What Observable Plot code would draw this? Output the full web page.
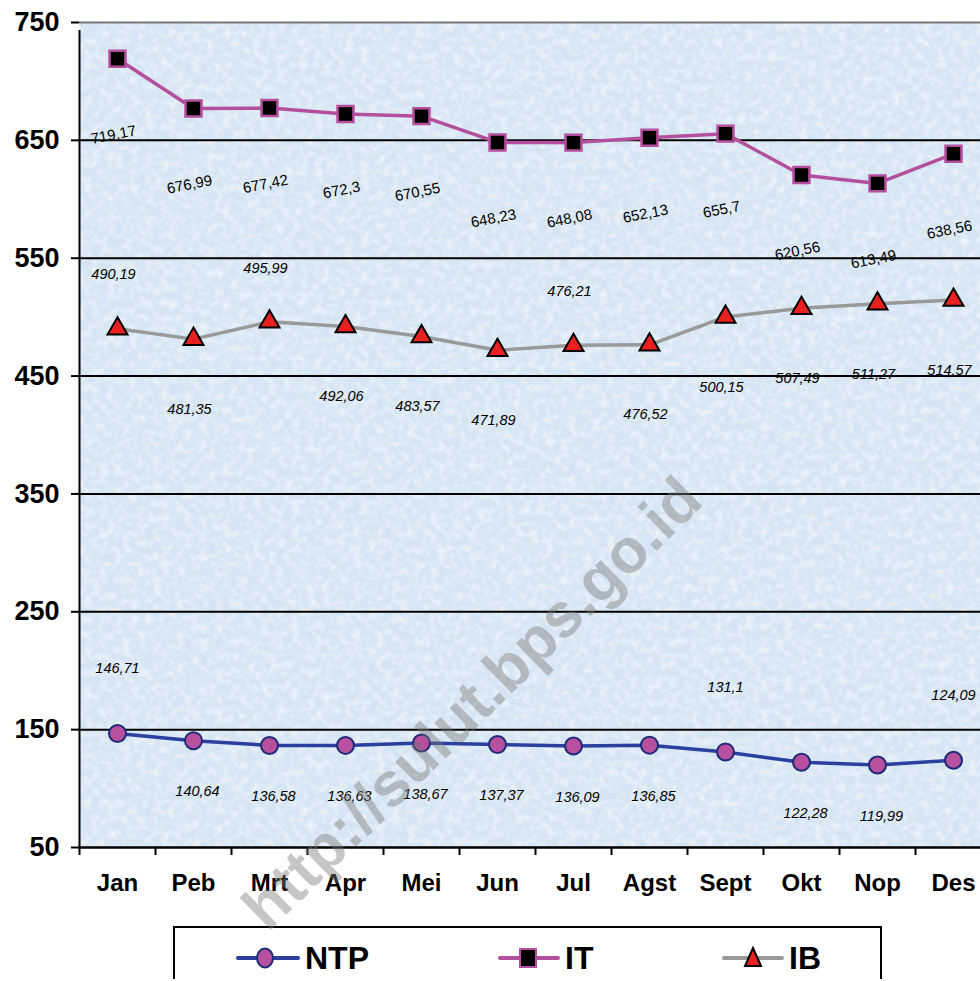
<!DOCTYPE html>
<html>
<head>
<meta charset="utf-8">
<script src="https://cdn.jsdelivr.net/npm/d3@7"></script>
<script src="https://cdn.jsdelivr.net/npm/@observablehq/plot@0.6"></script>
<style>
  html, body { margin: 0; padding: 0; background: #fff; }
  #wrap { position: relative; width: 980px; height: 981px; overflow: hidden; font-family: "Liberation Sans", Arial, sans-serif; }
  #chart { position: absolute; left: 0; top: 0; }
  #legend { position: absolute; left: 173px; top: 926px; width: 709px; height: 53px; border: 2px solid #000; border-bottom: none; background: #fff; box-sizing: border-box; }
  .item { position: absolute; top: 13px; height: 34px; display: flex; align-items: center; }
  .item span { font-weight: bold; font-size: 32px; margin-left: 5px; line-height: 34px; }
  #wm { position: absolute; left: 472px; top: 703px; transform: translate(-50%, -50%) rotate(-44.5deg); font-weight: bold; font-size: 62px; line-height: 62px; color: rgba(120,120,120,0.42); white-space: nowrap; pointer-events: none; }
</style>
</head>
<body>
<div id="wrap">
  <div id="chart"></div>
  <div id="legend">
    <div class="item" style="left:61px"><svg width="64" height="34"><line x1="2" y1="17" x2="62" y2="17" stroke="#2b3f9f" stroke-width="4" stroke-linecap="round"/><ellipse cx="29" cy="17" rx="8" ry="9.5" fill="#b6509f" stroke="#1e2a78" stroke-width="2"/></svg><span>NTP</span></div>
    <div class="item" style="left:323px"><svg width="62" height="34"><line x1="2" y1="17" x2="60" y2="17" stroke="#b44f9d" stroke-width="4" stroke-linecap="round"/><rect x="22" y="8" width="16" height="18" fill="#000" stroke="#b44f9d" stroke-width="2"/></svg><span>IT</span></div>
    <div class="item" style="left:547px"><svg width="62" height="34"><line x1="2" y1="17" x2="60" y2="17" stroke="#999" stroke-width="4" stroke-linecap="round"/><path d="M31,7 L39,25 L23,25 Z" fill="#e82020" stroke="#000" stroke-width="2" stroke-linejoin="miter"/></svg><span>IB</span></div>
  </div>
  <div id="wm">http://sulut.bps.go.id</div>
</div>
<script>
// ---- data ----
const months = ["Jan","Peb","Mrt","Apr","Mei","Jun","Jul","Agst","Sept","Okt","Nop","Des"];
const ntp = [146.71,140.64,136.58,136.63,138.67,137.37,136.09,136.85,131.1,122.28,119.99,124.09];
const it  = [719.17,676.99,677.42,672.3,670.55,648.23,648.08,652.13,655.7,620.56,613.49,638.56];
const ib  = [490.19,481.35,495.99,492.06,483.57,471.89,476.21,476.52,500.15,507.49,511.27,514.57];
const yTicks = [50,150,250,350,450,550,650,750];
// data-label placement (as set in the original spreadsheet)
const ntpLabelSide = ["above","below","below","below","below","below","below","below","above","below","below","above"];
const ibLabelSide  = ["above","below","above","below","below","below","above","below","below","below","below","below"];

const rows = months.map((m, i) => ({month: m, ntp: ntp[i], it: it[i], ib: ib[i], ntpSide: ntpLabelSide[i], ibSide: ibLabelSide[i]}));
const fmt = v => String(v).replace(".", ",");

const xRange = [79, 991];
const bw = (xRange[1] - xRange[0]) / months.length;

const plot = Plot.plot({
  width: 980,
  height: 981,
  marginTop: 22,
  marginBottom: 134,
  marginLeft: 79,
  marginRight: 0,
  style: {fontFamily: "'Liberation Sans', Arial, sans-serif", color: "#000", background: "transparent", overflow: "visible"},
  x: {type: "band", domain: months, range: xRange, padding: 0, axis: null},
  y: {domain: [50, 750], axis: null},
  marks: [
    Plot.frame({fill: "#d5e5f3", stroke: null}),
    // gridlines
    Plot.ruleY(yTicks.filter(t => t > 50 && t < 750), {stroke: "#000", strokeWidth: 2}),
    Plot.ruleY([750], {stroke: "#777", strokeWidth: 2}),
    // y axis
    Plot.axisY({ticks: yTicks, tickSize: 8, tickPadding: 12, fontSize: 27, fontWeight: "bold", strokeWidth: 2, tickFormat: d => String(d)}),
    // x axis ticks at category boundaries and labels
    Plot.axisX({tickSize: 8, tickFormat: () => "", dx: -bw / 2, strokeWidth: 2}),
    Plot.axisX({tickSize: 0, tickPadding: 26, fontSize: 24, fontWeight: "bold"}),
    Plot.ruleY([50], {stroke: "#000", strokeWidth: 2.5}),
    Plot.ruleX([months[0]], {dx: -bw / 2, y1: 50, y2: 750, insetBottom: -8, stroke: "#000", strokeWidth: 2}),
    // series lines
    Plot.line(rows, {x: "month", y: "it", stroke: "#b44f9d", strokeWidth: 3.5}),
    Plot.line(rows, {x: "month", y: "ib", stroke: "#999999", strokeWidth: 3.5}),
    Plot.line(rows, {x: "month", y: "ntp", stroke: "#2b3f9f", strokeWidth: 3.5}),
    // markers
    Plot.dot(rows, {x: "month", y: "it", symbol: "square", r: 9, fill: "#000", stroke: "#b44f9d", strokeWidth: 2.5}),
    Plot.dot(rows, {x: "month", y: "ib", symbol: "triangle", r: 7.4, fill: "#e82020", stroke: "#000", strokeWidth: 2}),
    Plot.dot(rows, {x: "month", y: "ntp", r: 8.5, fill: "#b6509f", stroke: "#1e2a78", strokeWidth: 2}),
    // data labels
    Plot.text(rows, {x: "month", y: "it", text: d => fmt(d.it), dy: 76, dx: -4, rotate: -11, fontSize: 15, fill: "#000"}),
    Plot.text(rows.filter(d => d.ibSide === "above"), {x: "month", y: "ib", text: d => fmt(d.ib), dy: -54, dx: -4, fontSize: 14.5, fontStyle: "italic", fill: "#000"}),
    Plot.text(rows.filter(d => d.ibSide === "below"), {x: "month", y: "ib", text: d => fmt(d.ib), dy: 70, dx: -4, fontSize: 14.5, fontStyle: "italic", fill: "#000"}),
    Plot.text(rows.filter(d => d.ntpSide === "above"), {x: "month", y: "ntp", text: d => fmt(d.ntp), dy: -65, fontSize: 14.5, fontStyle: "italic", fill: "#000"}),
    Plot.text(rows.filter(d => d.ntpSide === "below"), {x: "month", y: "ntp", text: d => fmt(d.ntp), dy: 51, dx: 4, fontSize: 14.5, fontStyle: "italic", fill: "#000"})
  ]
});

document.getElementById("chart").appendChild(plot);

// subtle mottled texture over the plot background
(function () {
  const svgNode = plot.tagName.toLowerCase() === "svg" ? plot : plot.querySelector("svg");
  const svg = d3.select(svgNode);
  const yr = plot.scale("y").range;
  const defs = svg.insert("defs", ":first-child");
  const f = defs.append("filter").attr("id", "tex").attr("x", 0).attr("y", 0).attr("width", "100%").attr("height", "100%");
  f.append("feTurbulence").attr("type", "fractalNoise").attr("baseFrequency", "0.13").attr("numOctaves", 3).attr("seed", 7);
  f.append("feColorMatrix").attr("type", "matrix").attr("values", "0 0 0 0 1  0 0 0 0 1  0 0 0 0 1  2.2 0 0 0 -0.85");
  const frameNode = svgNode.querySelector('[aria-label="frame"]');
  const top = Math.min(...yr), bottom = Math.max(...yr);
  const rect = document.createElementNS("http://www.w3.org/2000/svg", "rect");
  rect.setAttribute("x", 79); rect.setAttribute("y", top);
  rect.setAttribute("width", 980 - 79); rect.setAttribute("height", bottom - top);
  rect.setAttribute("fill", "#fff"); rect.setAttribute("opacity", 0.55); rect.setAttribute("filter", "url(#tex)");
  if (frameNode && frameNode.parentNode) frameNode.parentNode.insertBefore(rect, frameNode.nextSibling);
  else svgNode.insertBefore(rect, defs.node().nextSibling);
})();
</script>
</body>
</html>
